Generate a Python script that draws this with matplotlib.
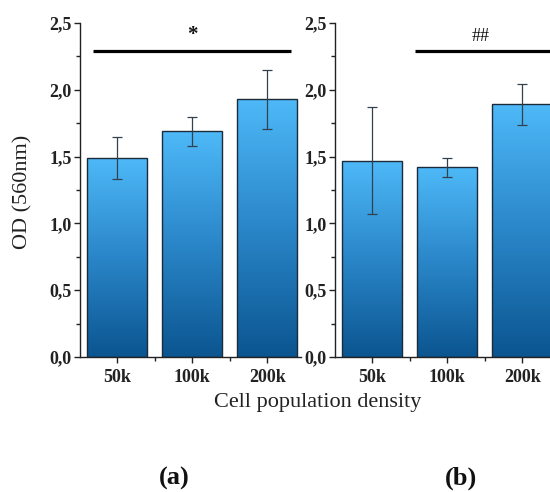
import matplotlib
matplotlib.use("Agg")
import matplotlib.pyplot as plt
import numpy as np
from matplotlib.colors import LinearSegmentedColormap
from matplotlib.ticker import MultipleLocator, FixedLocator, FuncFormatter

OUT_PNG = "out.png"

categories = ["50k", "100k", "200k"]
od_a = [1.49, 1.69, 1.93]
err_a = [0.16, 0.11, 0.22]
od_b = [1.47, 1.42, 1.89]
err_b = [0.40, 0.07, 0.15]

sig_a = {"x0": -0.32, "x1": 2.32, "y": 2.29, "label": "*", "tx": 1.0, "ty": 2.41}
sig_b = {"x0": 0.57, "x1": 2.45, "y": 2.29, "label": "##", "tx": 1.45, "ty": 2.40}

plt.rcParams["font.family"] = ["Liberation Serif", "DejaVu Serif"]

W, H = 550, 492
grad = LinearSegmentedColormap.from_list("bar", ["#0b5590", "#2a86c8", "#4eb9f8"])


def comma(v, pos):
    return f"{v:.1f}".replace(".", ",")


def draw_panel(ax, values, errs, sig):
    x = np.arange(len(categories))
    bars = ax.bar(x, values, width=0.8, facecolor="none", edgecolor="#1c2b3a",
                  linewidth=1.0, zorder=3)
    g = np.linspace(0, 1, 256).reshape(-1, 1)
    for p in bars.patches:
        x0, y0 = p.get_x(), p.get_y()
        im = ax.imshow(g, cmap=grad, origin="lower", aspect="auto",
                       extent=[x0, x0 + p.get_width(), y0, y0 + p.get_height()],
                       zorder=2)
        im.set_clip_path(p)
    ax.errorbar(x, values, yerr=errs, fmt="none", ecolor="#33414f",
                elinewidth=0.9, capsize=3.5, capthick=0.9, zorder=4)
    ax.plot([sig["x0"], sig["x1"]], [sig["y"], sig["y"]], color="black",
            lw=2.3, solid_capstyle="butt", clip_on=False, zorder=5)
    fs = 15 if sig["label"] == "*" else 13
    ax.text(sig["tx"], sig["ty"], sig["label"], ha="center", va="center",
            fontsize=fs, fontweight="bold" if sig["label"] == "*" else "normal",
            color="#111111")

    ax.set_xlim(-0.5, 2.45)
    ax.set_ylim(0, 2.5)
    ax.spines["top"].set_visible(False)
    ax.spines["right"].set_visible(False)
    for s in ("left", "bottom"):
        ax.spines[s].set_linewidth(1.0)
        ax.spines[s].set_color("#222222")
    ax.yaxis.set_major_locator(MultipleLocator(0.5))
    ax.yaxis.set_minor_locator(MultipleLocator(0.25))
    ax.yaxis.set_major_formatter(FuncFormatter(comma))
    ax.set_xticks(x)
    ax.set_xticklabels(categories)
    ax.xaxis.set_minor_locator(FixedLocator([0.5, 1.5]))
    ax.tick_params(which="major", direction="out", length=4, width=1.0,
                   color="#222222", labelsize=13, pad=2)
    ax.tick_params(which="minor", direction="out", length=3, width=1.0,
                   color="#222222")
    ax.tick_params(axis="x", which="major", pad=5)
    for lab in ax.get_xticklabels() + ax.get_yticklabels():
        lab.set_fontweight("bold")
        lab.set_color("#222222")


def main():
    fig = plt.figure(figsize=(W / 100, H / 100), dpi=100)
    ax_a = fig.add_axes([80 / W, (H - 357) / H, 221 / W, 334 / H])
    ax_b = fig.add_axes([335 / W, (H - 357) / H, 221 / W, 334 / H])
    draw_panel(ax_a, od_a, err_a, sig_a)
    draw_panel(ax_b, od_b, err_b, sig_b)

    fig.text(23 / W, 1 - 192 / H, "OD (560nm)", rotation=90, ha="center",
             va="center", fontsize=16, color="#222222")
    fig.text(318 / W, 1 - 403 / H, "Cell population density", ha="center",
             va="center", fontsize=16, color="#222222")
    fig.text(174 / W, 1 - 478 / H, "(a)", ha="center", va="center",
             fontsize=19, fontweight="bold", color="#111111")
    fig.text(461 / W, 1 - 478 / H, "(b)", ha="center", va="center",
             fontsize=19, fontweight="bold", color="#111111")

    fig.savefig(OUT_PNG, dpi=100)
    plt.close(fig)


if __name__ == "__main__":
    main()
